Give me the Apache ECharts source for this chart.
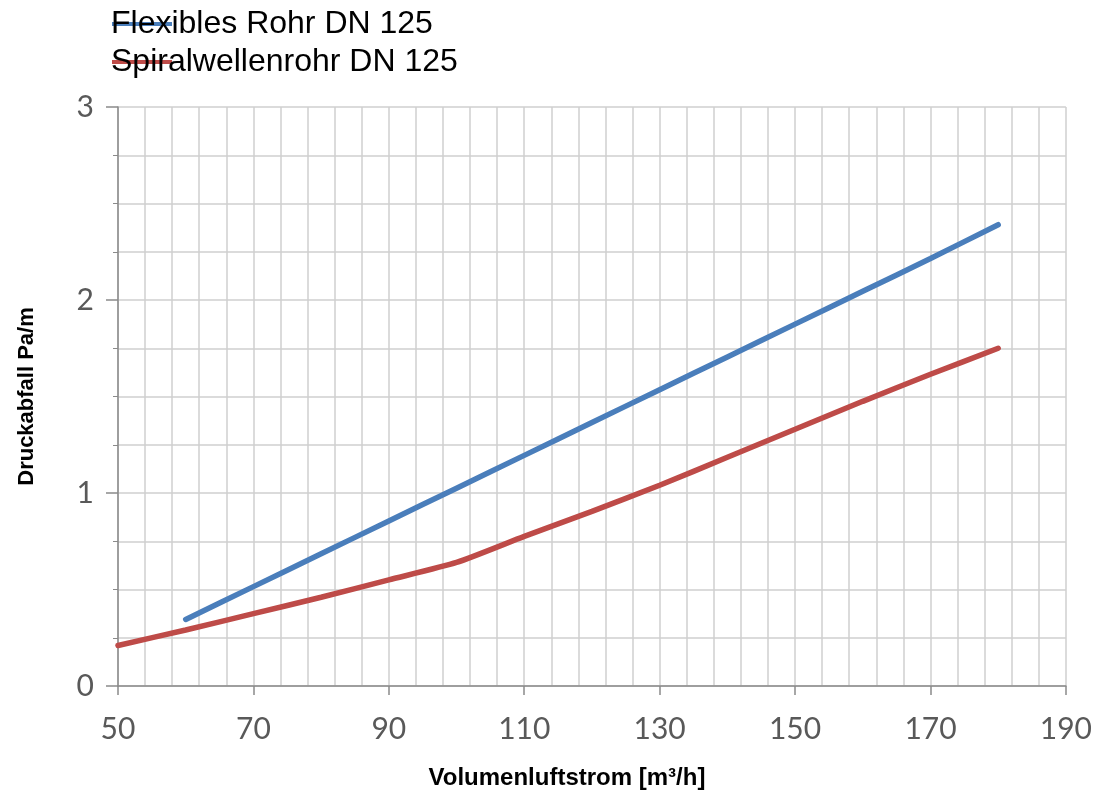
<!DOCTYPE html>
<html>
<head>
<meta charset="utf-8">
<script src="https://cdn.jsdelivr.net/npm/echarts@6/dist/echarts.min.js"></script>
<style>
html,body{margin:0;padding:0;background:#fff;}
#chart{width:1095px;height:798px;}
</style>
</head>
<body>
<div id="chart"></div>
<script>
// Data
const seriesNames = ['Flexibles Rohr DN 125', 'Spiralwellenrohr DN 125'];
const flexX = [60, 70, 80, 90, 100, 110, 120, 130, 140, 150, 160, 170, 180];
const flexY = [0.345, 0.515, 0.685, 0.855, 1.025, 1.195, 1.365, 1.535, 1.705, 1.875, 2.045, 2.215, 2.39];
const spiralX = [50, 60, 70, 80, 90, 100, 110, 120, 130, 140, 150, 160, 170, 180];
const spiralY = [0.21, 0.29, 0.375, 0.46, 0.55, 0.64, 0.775, 0.905, 1.04, 1.185, 1.33, 1.475, 1.615, 1.75];
const xAxisTitle = 'Volumenluftstrom [m³/h]';
const yAxisTitle = 'Druckabfall Pa/m';

const pairs = (xs, ys) => xs.map((x, i) => [x, ys[i]]);

const chart = echarts.init(document.getElementById('chart'));
const gridColor = '#cfcfcf';
chart.setOption({
  animation: false,
  backgroundColor: '#ffffff',
  legend: {
    orient: 'vertical',
    left: 106,
    top: 3,
    itemGap: 6,
    itemWidth: 60,
    itemHeight: 4,
    icon: 'rect',
    data: seriesNames,
    textStyle: {
      fontFamily: 'Liberation Sans',
      fontSize: 32,
      color: '#000',
      padding: [0, 0, 0, -66]
    }
  },
  grid: { left: 118, right: 29, top: 107, bottom: 112 },
  xAxis: {
    type: 'value',
    min: 50, max: 190, interval: 20,
    name: xAxisTitle,
    nameLocation: 'middle',
    nameGap: 80,
    nameTextStyle: { fontFamily: 'Liberation Sans', fontWeight: 'bold', fontSize: 24, color: '#000', padding: [0, 50, 0, 0] },
    axisLine: { show: true, lineStyle: { color: '#8a8a8a', width: 1.5 } },
    axisTick: { show: true, length: 9, lineStyle: { color: '#8a8a8a', width: 1.5 } },
    minorTick: { show: false, splitNumber: 5 },
    axisLabel: { fontFamily: 'Lato', fontSize: 30, color: '#595959', margin: 28 },
    splitLine: { show: true, lineStyle: { color: gridColor, width: 1.5 } },
    minorSplitLine: { show: true, lineStyle: { color: gridColor, width: 1.5 } }
  },
  yAxis: {
    type: 'value',
    min: 0, max: 3, interval: 1,
    name: yAxisTitle,
    nameLocation: 'middle',
    nameGap: 80,
    nameTextStyle: { fontFamily: 'Liberation Sans', fontWeight: 'bold', fontSize: 22, color: '#000' },
    axisLine: { show: true, lineStyle: { color: '#8a8a8a', width: 1.5 } },
    axisTick: { show: true, inside: false, length: 12, lineStyle: { color: '#8a8a8a', width: 1.5 } },
    minorTick: { show: true, splitNumber: 4, length: 5, lineStyle: { color: '#8a8a8a', width: 1 } },
    axisLabel: { fontFamily: 'Lato', fontSize: 30, color: '#595959', margin: 24 },
    splitLine: { show: true, lineStyle: { color: gridColor, width: 1.5 } },
    minorSplitLine: { show: true, lineStyle: { color: gridColor, width: 1.5 } }
  },
  series: [
    {
      name: seriesNames[0],
      type: 'line',
      data: pairs(flexX, flexY),
      smooth: 0.2,
      showSymbol: false,
      symbol: 'none',
      color: '#4a7ebb',
      lineStyle: { width: 5.5, color: '#4a7ebb', cap: 'round' }
    },
    {
      name: seriesNames[1],
      type: 'line',
      data: pairs(spiralX, spiralY),
      smooth: 0.2,
      showSymbol: false,
      symbol: 'none',
      color: '#be4b48',
      lineStyle: { width: 5.5, color: '#be4b48', cap: 'round' }
    }
  ]
});
</script>
</body>
</html>
